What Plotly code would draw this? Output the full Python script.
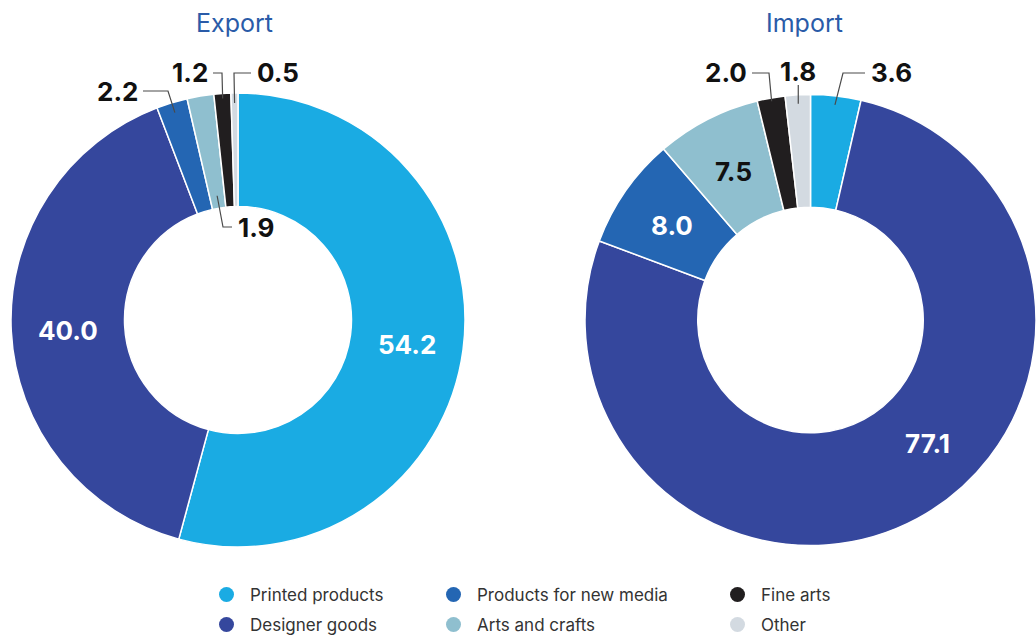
import math
import plotly.graph_objects as go

W, H = 1036, 639

# ---------------- data ----------------
categories = ["Printed products", "Designer goods", "Products for new media",
              "Arts and crafts", "Fine arts", "Other"]
export_values = [54.2, 40.0, 2.2, 1.9, 1.2, 0.5]
import_values = [3.6, 77.1, 8.0, 7.5, 2.0, 1.8]
pie_titles = ["Export", "Import"]
legend_order = ["Printed products", "Products for new media", "Fine arts",
                "Designer goods", "Arts and crafts", "Other"]

# ---------------- style ----------------
colors = {"Printed products": "#1aabe3", "Designer goods": "#35479d",
          "Products for new media": "#2466b3", "Arts and crafts": "#8fbfcf",
          "Fine arts": "#211e1f", "Other": "#d3dae1"}
inside_text_color = {"Arts and crafts": "#111111", "Other": "#111111"}
HOLE = 0.5
NUM_FONT = "Inter"
TXT_FONT = "Inter"
geom = {"Export": dict(cx=238, cy=320, r=227),
        "Import": dict(cx=810.5, cy=320, r=225.5)}
title_pos = {"Export": 234, "Import": 804}
angle_override = {("Import", "Designer goods"): 136}
# outside label layout: anchor radius ratio, label y, elbow x, line end x, side
outside = {
    ("Export", "Products for new media"): dict(ar=0.955, ty=91, ex=168, lx=143, side="left"),
    ("Export", "Arts and crafts"): dict(ar=0.555, ty=227, ex=223, lx=232, side="right"),
    ("Export", "Fine arts"): dict(ar=0.978, ty=73, ex=222, lx=213, side="left"),
    ("Export", "Other"): dict(ar=0.956, ty=73, ex=234, lx=251, side="right"),
    ("Import", "Printed products"): dict(ar=0.96, ty=73, ex=843, lx=865, side="right"),
    ("Import", "Fine arts"): dict(ar=0.985, ty=73, ex=769, lx=752, side="left"),
    ("Import", "Other"): dict(ar=0.96, ty=72, ex=None, lx=None, side="top"),
}
legend_cols = [226, 453, 737]
legend_rows = [595, 625]


def px(x):
    return x / W


def py(y):
    return 1 - y / H


fig = go.Figure()
annotations = []
shapes = []

for title, values in zip(pie_titles, [export_values, import_values]):
    g = geom[title]
    cx, cy, r = g["cx"], g["cy"], g["r"]
    fig.add_trace(go.Pie(
        labels=categories, values=values, sort=False, direction="clockwise",
        rotation=0, hole=HOLE, textinfo="none", showlegend=False,
        marker=dict(colors=[colors[c] for c in categories],
                    line=dict(color="white", width=1.5)),
        domain=dict(x=[px(cx - r), px(cx + r)], y=[py(cy + r), py(cy - r)]),
        hoverinfo="label+value",
    ))
    annotations.append(dict(
        x=px(title_pos[title]), y=py(23), xref="paper", yref="paper",
        text=title, showarrow=False, xanchor="center", yanchor="middle",
        font=dict(family=TXT_FONT, size=25, color="#2a5ba8")))
    total = sum(values)
    cum = 0.0
    for cat, v in zip(categories, values):
        mid = 360.0 * (cum + v / 2) / total
        cum += v
        key = (title, cat)
        label = f"{v:.1f}"
        if key in outside:
            o = outside[key]
            rr = r * o["ar"]
            ax = cx + rr * math.sin(math.radians(mid))
            ay = cy - rr * math.cos(math.radians(mid))
            if o["side"] == "top":
                path = f"M {px(ax)},{py(ay)} L {px(ax)},{py(o['ty'] + 13)}"
                tx, xa = ax, "center"
            else:
                path = (f"M {px(ax)},{py(ay)} L {px(o['ex'])},{py(o['ty'])} "
                        f"L {px(o['lx'])},{py(o['ty'])}")
                if o["side"] == "left":
                    tx, xa = o["lx"] - 3, "right"
                else:
                    tx, xa = o["lx"] + 4, "left"
            shapes.append(dict(type="path", path=path, xref="paper", yref="paper",
                               line=dict(color="#4a4a4a", width=1.2)))
            annotations.append(dict(
                x=px(tx), y=py(o["ty"]), xref="paper", yref="paper", text=label,
                showarrow=False, xanchor=xa, yanchor="middle",
                font=dict(family=NUM_FONT, size=26, color="#111111", weight=700)))
        else:
            ang = angle_override.get(key, mid)
            rr = r * (1 + HOLE) / 2
            tx = cx + rr * math.sin(math.radians(ang))
            ty = cy - rr * math.cos(math.radians(ang))
            annotations.append(dict(
                x=px(tx), y=py(ty + 2), xref="paper", yref="paper", text=label,
                showarrow=False, xanchor="center", yanchor="middle",
                font=dict(family=NUM_FONT, size=26,
                          color=inside_text_color.get(cat, "white"), weight=700)))

# legend entries (one legend per entry for grid placement)
layout_legends = {}
for i, cat in enumerate(legend_order):
    col, row = i % 3, i // 3
    name = "legend" if i == 0 else f"legend{i + 1}"
    fig.add_trace(go.Scatter(
        x=[None], y=[None], mode="markers", name=cat, legend=name,
        marker=dict(color=colors[cat], size=15, symbol="circle"),
        showlegend=True, hoverinfo="skip"))
    layout_legends[name] = dict(
        x=px(legend_cols[col] - 23), y=py(legend_rows[row]),
        xanchor="left", yanchor="middle", bgcolor="rgba(0,0,0,0)",
        borderwidth=0, itemwidth=37,
        font=dict(family=TXT_FONT, size=17, color="#333333"),
        itemclick=False, itemdoubleclick=False)

fig.update_layout(
    width=W, height=H, margin=dict(l=0, r=0, t=0, b=0, autoexpand=False),
    paper_bgcolor="white", plot_bgcolor="white",
    xaxis=dict(visible=False), yaxis=dict(visible=False),
    annotations=annotations, shapes=shapes,
    **layout_legends,
)

fig.write_html("out.html", config={"displayModeBar": False},
               post_script="document.body.style.margin='0';document.body.style.padding='0';")
